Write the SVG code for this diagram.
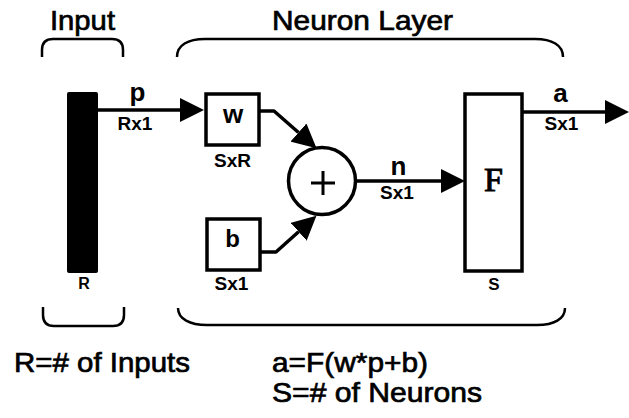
<svg xmlns="http://www.w3.org/2000/svg" width="629" height="418" viewBox="0 0 629 418">
<style>
text{font-family:"Liberation Sans",Arial,sans-serif;font-weight:bold;fill:#000}
.big{font-size:28px;font-weight:normal;stroke:#000;stroke-width:0.7}
.sym{font-size:26px;text-anchor:middle}
.dim{font-size:19px;text-anchor:middle}
.box{fill:#fff;stroke:#000;stroke-width:3.5}
.wire{fill:none;stroke:#000;stroke-width:3.5;stroke-linejoin:round}
.brace{fill:none;stroke:#000;stroke-width:2.5}
</style>
<defs>
<marker id="ah" markerUnits="userSpaceOnUse" markerWidth="24" markerHeight="24" viewBox="0 0 22 22" refX="0" refY="11" orient="auto">
<path d="M0,0 L22,11 L0,22 z" fill="#000"/>
</marker>
</defs>
<rect width="629" height="418" fill="#fff"/>

<g id="annotations">
<text class="big" x="50" y="30" textLength="65" lengthAdjust="spacingAndGlyphs">Input</text>
<text class="big" x="272" y="30" textLength="181" lengthAdjust="spacingAndGlyphs">Neuron Layer</text>
<path class="brace" d="M42,57 L42,50 Q42,39 53,39 L112,39 Q123,39 123,50 L123,57"/>
<path class="brace" d="M177,57 C177,45 188,39 205,39 L535,39 C552,39 563,45 563,57"/>
<path class="brace" d="M43,307 L43,315 Q43,326 54,326 L113,326 Q124,326 124,315 L124,307"/>
<path class="brace" d="M178,308 C178,319 190,325 207,325 L537,325 C554,325 565,319 565,308"/>
<text class="big" x="14" y="372" textLength="176" lengthAdjust="spacingAndGlyphs">R=# of Inputs</text>
<text class="big" x="272" y="372" textLength="156" lengthAdjust="spacingAndGlyphs">a=F(w*p+b)</text>
<text class="big" x="272" y="402" textLength="210" lengthAdjust="spacingAndGlyphs">S=# of Neurons</text>
</g>

<g id="connectors">
<path class="wire" d="M98,110 L180,110" marker-end="url(#ah)"/>
<path class="wire" d="M259,111 L274,111 L298.5,132.5" marker-end="url(#ah)"/>
<path class="wire" d="M260,252 L276,252 L298.6,231.7" marker-end="url(#ah)"/>
<path class="wire" d="M355,181 L441,181" marker-end="url(#ah)"/>
<path class="wire" d="M522,112 L605,112" marker-end="url(#ah)"/>
<text class="sym" x="137.5" y="101">p</text>
<text class="dim" x="135" y="130">Rx1</text>
<text class="sym" x="398.5" y="175">n</text>
<text class="dim" x="397" y="199">Sx1</text>
<text class="sym" x="560.5" y="102">a</text>
<text class="dim" x="561.5" y="130">Sx1</text>
</g>

<g id="input">
<rect x="67" y="92" width="31" height="181" rx="2" fill="#000"/>
<text class="dim" x="84" y="289" style="font-size:16px">R</text>
</g>

<g id="weight">
<rect class="box" x="206" y="94" width="53" height="51"/>
<text class="sym" x="233" y="123">w</text>
<text class="dim" x="232.5" y="167">SxR</text>
</g>

<g id="bias">
<rect class="box" x="207" y="219" width="53" height="51"/>
<text class="sym" x="232.5" y="247" style="font-size:24px">b</text>
<text class="dim" x="231.5" y="290">Sx1</text>
</g>

<g id="sum">
<circle class="box" cx="322" cy="181" r="33.5"/>
<path d="M311,183 L335,183 M323,171 L323,195" stroke="#000" stroke-width="3"/>
</g>

<g id="transfer">
<rect class="box" x="465" y="94" width="57" height="177"/>
<text x="493.5" y="191" style="font-family:'Liberation Serif','Times New Roman',serif;font-size:34px;font-weight:normal;text-anchor:middle;stroke:#000;stroke-width:1">F</text>
<text class="dim" x="494" y="290" style="font-size:17px">S</text>
</g>
</svg>
